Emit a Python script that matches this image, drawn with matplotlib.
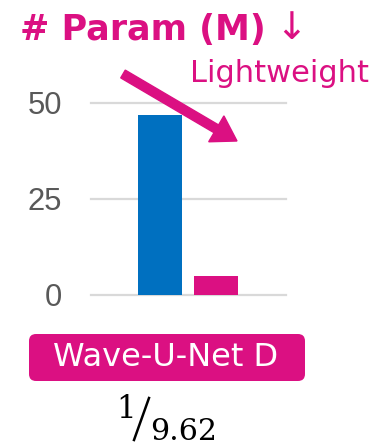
import matplotlib
matplotlib.use("Agg")
import matplotlib.pyplot as plt
from matplotlib.patches import FancyBboxPatch, FancyArrow
from matplotlib.transforms import Affine2D

W, H = 374, 447
PINK = "#DB1082"
BLUE = "#0070C0"
GRID = "#D9D9D9"
TICK = "#595959"

# data
models = ["Baseline", "Wave-U-Net D"]
params = [46.7, 4.85]
bar_colors = [BLUE, PINK]
yticks = [0, 25, 50]
ratio_num = "1"
ratio_den = "9.62"

fig = plt.figure(figsize=(W / 100, H / 100), dpi=100)
# pixel coordinates measured from the top-left corner
px = Affine2D().scale(1, -1).translate(0, H)


def fx(x):
    return x / W


def fy(y):
    return 1 - y / H


def pt(size_px):
    return size_px * 0.72


# plotting area
ax_l, ax_r, ax_t, ax_b = 90.7, 285.7, 102.7, 295.0
ax = fig.add_axes([fx(ax_l), fy(ax_b), fx(ax_r - ax_l), (ax_b - ax_t) / H])
ax.set_ylim(0, 50)
ax.set_xlim(-1.2375, 2.245)
ax.bar(range(len(params)), params, width=0.786, color=bar_colors, zorder=3)
for s in ax.spines.values():
    s.set_visible(False)
ax.set_xticks([])
ax.set_yticks(yticks)
ax.yaxis.grid(True, color=GRID, linewidth=1.6, zorder=0)
for gl in ax.get_ygridlines():
    gl.set_clip_on(False)
ax.tick_params(axis="y", length=0, pad=pt(28.5), labelsize=pt(31),
               labelcolor=TICK)
for lab in ax.get_yticklabels():
    lab.set_fontfamily("Liberation Sans")

# title
fig.text(20, 30, "# Param (M)", color=PINK, fontsize=pt(35),
         fontweight="bold", family="DejaVu Sans", va="center", ha="left",
         transform=px)
fig.text(275, 29, "\u2193", color=PINK, fontsize=pt(38),
         family="DejaVu Sans", va="center", ha="left", transform=px)

# annotation
fig.text(190, 74, "Lightweight", color=PINK, fontsize=pt(30.5),
         family="DejaVu Sans", va="center", ha="left", transform=px)
arrow = FancyArrow(123, 74, 237 - 123, 141 - 74,
                   width=9, head_width=30, head_length=24,
                   length_includes_head=True, color=PINK, transform=px)
fig.patches.append(arrow)

# model name badge
badge = FancyBboxPatch((29, 334), 276, 47,
                       boxstyle="round,pad=0,rounding_size=7",
                       facecolor=PINK, edgecolor="none", transform=px)
fig.patches.append(badge)
fig.text(166, 357, models[1], color="white", fontsize=pt(32),
         family="DejaVu Sans", va="center", ha="center", transform=px)

# reduction ratio
fig.text(116, 418, ratio_num, color="black", fontsize=pt(31),
         family="DejaVu Serif", va="baseline", ha="left", transform=px)
fig.lines.append(plt.Line2D([134, 149], [440, 398], color="black",
                            linewidth=1.8, transform=px))
fig.text(150, 446, ratio_den, color="black", fontsize=pt(30),
         family="DejaVu Serif", va="bottom", ha="left", transform=px)

fig.savefig("out.png", dpi=100)
